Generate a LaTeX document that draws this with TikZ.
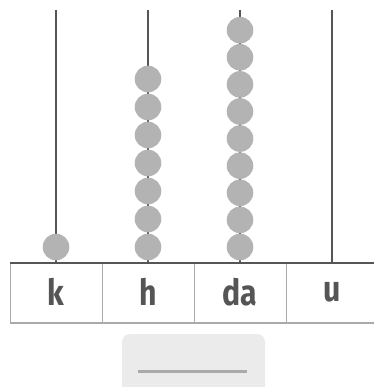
\documentclass[tikz,border=0pt]{standalone}
\usepackage{fontspec}
\newfontfamily\labelfont[FakeStretch=0.84]{Fira Sans Bold}
\definecolor{rodgray}{HTML}{555555}
\definecolor{beadgray}{HTML}{B3B3B3}
\definecolor{cellgray}{HTML}{AAAAAA}
\definecolor{boxgray}{HTML}{EBEBEB}
\tikzset{
  rod/.style={draw=rodgray,line width=2pt},
  bead/.style={circle,fill=beadgray,inner sep=0pt,minimum size=26.6pt},
  place/.style={text=rodgray,font=\labelfont\fontsize{36}{36}\selectfont,inner sep=0pt}
}
\begin{document}
\begin{tikzpicture}[x=1pt,y=-1pt]
        \useasboundingbox (0,0) rectangle (374,387);
        % rods
        \foreach \name/\x in {k/56,h/148,da/240,u/332} {
            \coordinate (top-\name) at (\x,10);
            \coordinate (foot-\name) at (\x,263);
            \draw [rod] (top-\name) -- (foot-\name);
        }
        % beads
        \node [bead] (k1) at (56,247) {};
        \foreach \i in {1,...,7}
            \node [bead] (h\i) at (148,{247-(\i-1)*28}) {};
        \foreach \i in {1,...,9}
            \node [bead] (da\i) at (240,{247-(\i-1)*27.1}) {};
        % place value row
        \draw [cellgray,line width=1.2pt] (10,323) -- (374,323);
        \foreach \x in {10,102,194,286}
            \draw [cellgray,line width=1pt] (\x,263) -- (\x,323);
        \draw [rodgray,line width=2pt] (10,263) -- (374,263);
        \node [place] (lk) at (56,292) {k};
        \node [place] (lh) at (148,292) {h};
        \node [place] (lda) at (240,292) {da};
        \node [place] (lu) at (332,292) {u};
        % answer box
        \fill [boxgray,rounded corners=8pt] (122,395) -- (122,334) -- (265,334) -- (265,395);
        \draw [cellgray,line width=3pt] (138,371.5) -- (247,371.5);
    \end{tikzpicture}
\end{document}
